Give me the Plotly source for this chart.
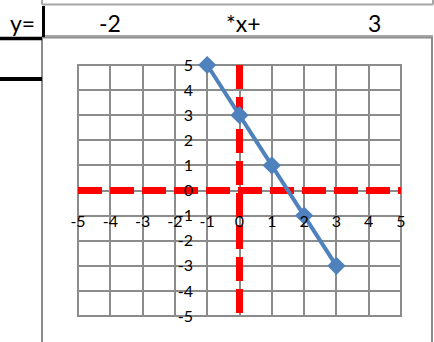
import plotly.graph_objects as go

# spreadsheet cells above the chart: y = SLOPE * x + INTERCEPT
SLOPE = -2
INTERCEPT = 3
CELL_TEXT = ["y=", str(SLOPE), "*x+", str(INTERCEPT)]

TICKS = [-5, -4, -3, -2, -1, 0, 1, 2, 3, 4, 5]
TICK_TEXT = [str(t) for t in TICKS]  # plain hyphen, as in Excel

# plotted points of the line
LINE_X = [-1, 0, 1, 2, 3]
LINE_Y = [5, 3, 1, -1, -3]

# red dashed helper axes
H_AXIS_X = [-5, 5]
H_AXIS_Y = [0, 0]
V_AXIS_X = [0, 0]
V_AXIS_Y = [5, -5]

BLUE = "#4F81BD"
RED = "#FF0000"
GRID = "#8c8c8c"
CELL = "#a6a6a6"
FONT = "Lato, Calibri, Carlito, sans-serif"

W, H = 434, 342
L, R, T, B = 78, 33, 65, 26
PW, PH = W - L - R, H - T - B


def px(x):
    return (x - L) / PW


def py(y):
    return (H - B - y) / PH


def hline(y, x0, x1, color, width):
    return dict(type="line", xref="paper", yref="paper", x0=px(x0), x1=px(x1),
                y0=py(y), y1=py(y), line=dict(color=color, width=width))


def vline(x, y0, y1, color, width):
    return dict(type="line", xref="paper", yref="paper", x0=px(x), x1=px(x),
                y0=py(y0), y1=py(y1), line=dict(color=color, width=width))


fig = go.Figure()
fig.add_trace(go.Scatter(x=H_AXIS_X, y=H_AXIS_Y, mode="lines", showlegend=False,
                         line=dict(color=RED, width=7, dash="24px,8px")))
fig.add_trace(go.Scatter(x=V_AXIS_X, y=V_AXIS_Y, mode="lines", showlegend=False,
                         line=dict(color=RED, width=7, dash="24px,8px")))
fig.add_trace(go.Scatter(x=LINE_X, y=LINE_Y, mode="lines+markers", showlegend=False,
                         cliponaxis=False,
                         line=dict(color=BLUE, width=4),
                         marker=dict(color=BLUE, size=14, symbol="diamond")))

shapes = [
    # cell borders
    hline(4.5, 42, 433, CELL, 2),
    vline(42, 0, 4.5, CELL, 2),
    vline(433, 0, 4.5, CELL, 2),
    hline(36, 42, 433, CELL, 2),
    # chart frame
    dict(type="rect", xref="paper", yref="paper", x0=px(42), x1=px(432),
         y0=py(350), y1=py(37.5), line=dict(color=GRID, width=2), layer="below"),
    # plot area frame
    dict(type="rect", xref="paper", yref="paper", x0=0, x1=1, y0=0, y1=1,
         line=dict(color=GRID, width=2), layer="below"),
    # thick black cell borders
    vline(43.5, 6, 37, "black", 3),
    hline(38.5, 0, 42, "black", 3.5),
    hline(79, 0, 42, "black", 4),
]

cell_pos = [(37, "right"), (110, "center"), (243, "center"), (374, "center")]
annotations = [
    dict(text=t, x=px(x), y=py(23), xref="paper", yref="paper", xanchor=a,
         yanchor="middle", showarrow=False, font=dict(family=FONT, size=23, color="black"))
    for t, (x, a) in zip(CELL_TEXT, cell_pos)
]

fig.update_layout(
    width=W, height=H,
    margin=dict(l=L, r=R, t=T, b=B),
    paper_bgcolor="white",
    plot_bgcolor="white",
    shapes=shapes,
    annotations=annotations,
    font=dict(family=FONT, size=16, color="black"),
)
fig.update_xaxes(range=[-5, 5], tickvals=TICKS, ticktext=TICK_TEXT,
                 showgrid=True, gridcolor=GRID, gridwidth=2,
                 zeroline=False, showline=False, ticks="",
                 anchor="free", position=py(210))
fig.update_yaxes(range=[-5, 5], tickvals=TICKS, ticktext=TICK_TEXT,
                 showgrid=True, gridcolor=GRID, gridwidth=2,
                 zeroline=False, showline=False, ticks="",
                 anchor="free", position=px(193))

fig.write_html("out.html", config={"displayModeBar": False},
               post_script="document.body.style.margin = '0';")
